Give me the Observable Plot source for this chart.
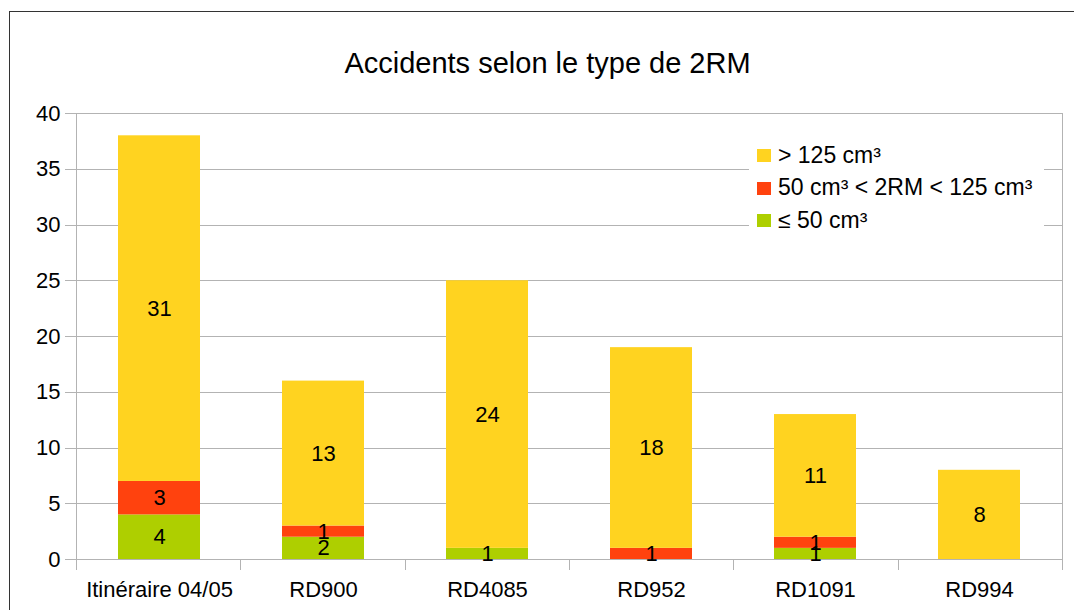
<!DOCTYPE html>
<html><head><meta charset="utf-8">
<script src="https://cdn.jsdelivr.net/npm/d3@7"></script>
<script src="https://cdn.jsdelivr.net/npm/@observablehq/plot@0.6"></script>
<style>
body{margin:0;background:#fff;font-family:"Liberation Sans",Arial,sans-serif;}
#wrap{position:relative;width:1074px;height:610px;overflow:hidden;background:#fff;}
#chart{position:absolute;left:0;top:0;}
#frame{position:absolute;left:9px;top:11px;width:1100px;height:640px;border-top:1.5px solid #333;border-left:1.5px solid #333;box-sizing:border-box;}
#title{position:absolute;left:0;top:48.5px;width:1095px;text-align:center;font-size:29px;line-height:1;color:#000;white-space:nowrap;}
#legend{position:absolute;left:749px;top:138px;width:295px;height:100px;background:#fff;}
.sw{position:absolute;width:14px;height:13px;}
.lt{position:absolute;font-size:23px;line-height:1;color:#000;white-space:nowrap;}
</style></head>
<body>
<div id="wrap">
  <div id="chart"></div>
  <div id="frame"></div>
  <div id="title">Accidents selon le type de 2RM</div>
  <div id="legend"></div>
</div>
<script>
const categories = ["Itinéraire 04/05", "RD900", "RD4085", "RD952", "RD1091", "RD994"];
const seriesNames = ["≤ 50 cm³", "50 cm³ < 2RM < 125 cm³", "> 125 cm³"];
const le50 = [4, 2, 1, 0, 1, 0];
const between50and125 = [3, 1, 0, 1, 1, 0];
const gt125 = [31, 13, 24, 18, 11, 8];
const seriesColors = ["#aecf00", "#ff420e", "#ffd320"];
const yTicks = [0, 5, 10, 15, 20, 25, 30, 35, 40];

const seriesValues = [le50, between50and125, gt125];
const rows = [];
seriesNames.forEach((s, si) => categories.forEach((c, ci) => rows.push({cat: c, series: s, value: seriesValues[si][ci]})));

const GRID = "#b3b3b3";
const W = 1074, H = 610;

function frameMark(index, scales, values, dims) {
  const {width, height, marginLeft: ml, marginRight: mr, marginTop: mt, marginBottom: mb} = dims;
  const y = scales.y;
  const g = d3.create("svg:g").attr("stroke", GRID).attr("stroke-width", 1).attr("shape-rendering", "crispEdges");
  for (const t of yTicks) {
    const yy = Math.round(y(t)) + 0.5;
    g.append("line").attr("x1", ml - 11).attr("x2", width - mr).attr("y1", yy).attr("y2", yy);
  }
  const yb = Math.round(y(0)) + 0.5;
  const n = categories.length, x0 = ml, x1 = width - mr;
  for (let i = 0; i <= n; i++) {
    const xx = Math.round(x0 + i * (x1 - x0) / n) + 0.5;
    g.append("line").attr("x1", xx).attr("x2", xx).attr("y1", i === 0 || i === n ? Math.round(y(40)) : yb).attr("y2", yb + 10);
  }
  return g.node();
}

const plot = Plot.plot({
  width: W, height: H,
  marginTop: 113, marginBottom: 51, marginLeft: 76, marginRight: 12,
  style: {fontSize: "22px", fontFamily: "Liberation Sans, Arial, sans-serif", color: "#000", background: "transparent", overflow: "visible"},
  x: {domain: categories, paddingInner: 0.5, paddingOuter: 0.25, tickSize: 0, tickPadding: 22, label: null},
  y: {domain: [0, 40], ticks: yTicks, tickSize: 0, tickPadding: 16, label: null},
  color: {domain: seriesNames, range: seriesColors},
  marks: [
    frameMark,
    Plot.barY(rows, {x: "cat", y: "value", fill: "series"}),
    Plot.text(rows, Plot.stackY({x: "cat", y: "value", z: "series", text: d => String(d.value), filter: d => d.value > 0, fill: "#000", fontSize: 22}))
  ]
});
document.getElementById("chart").appendChild(plot);

const legend = document.getElementById("legend");
const order = [2, 1, 0];
const baseTop = 143.5 - 138, step = 32.5;
order.forEach((si, k) => {
  const sw = document.createElement("div");
  sw.className = "sw";
  sw.style.left = (757 - 749) + "px";
  sw.style.top = (149 - 138 + k * step) + "px";
  sw.style.background = seriesColors[si];
  legend.appendChild(sw);
  const t = document.createElement("div");
  t.className = "lt";
  t.style.left = (778 - 749) + "px";
  t.style.top = (baseTop + k * step) + "px";
  t.textContent = seriesNames[si];
  legend.appendChild(t);
});
</script>
</body></html>
